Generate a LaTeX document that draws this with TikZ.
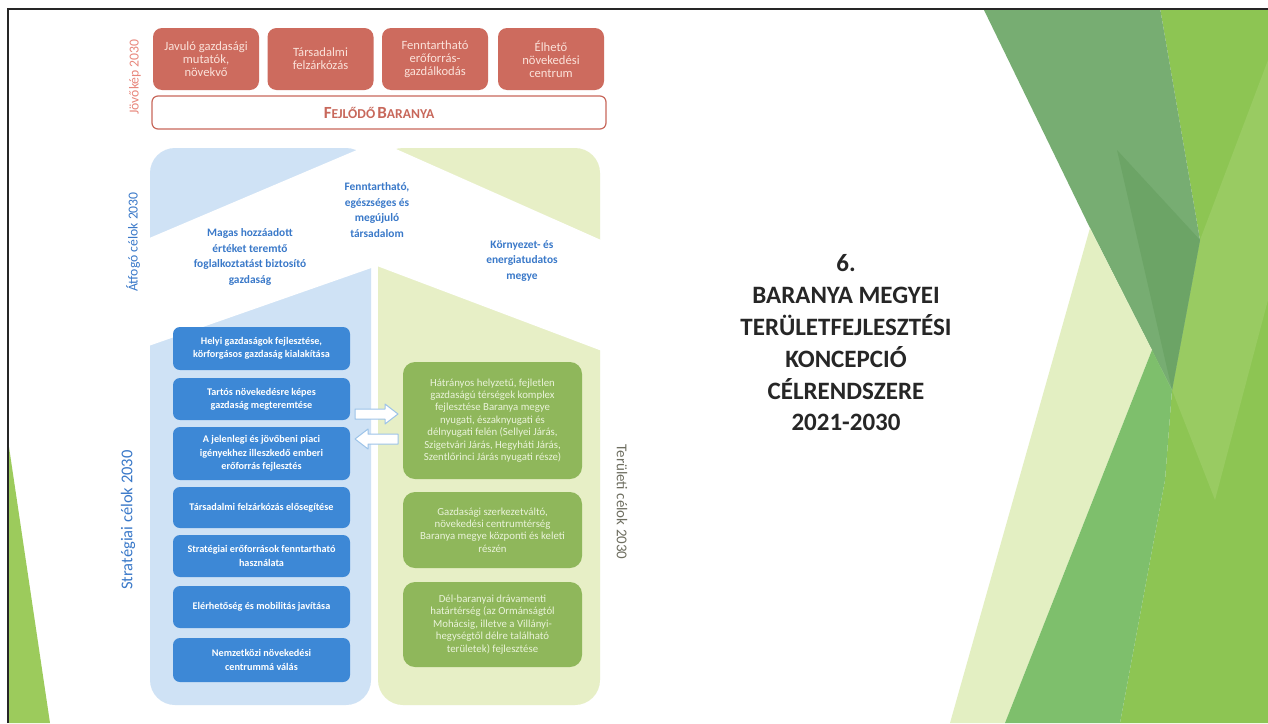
\documentclass[tikz,border=0pt]{standalone}
\usepackage{fontspec}
\setmainfont{Carlito}
\definecolor{cRedFill}{HTML}{CD6B5E}
\definecolor{cRedText}{HTML}{FBE2DA}
\definecolor{cRedLine}{HTML}{C8685B}
\definecolor{cRedLabel}{HTML}{E8877C}
\definecolor{cBluePanel}{HTML}{CFE2F5}
\definecolor{cBlueBox}{HTML}{3D88D6}
\definecolor{cBlueText}{HTML}{3A79C9}
\definecolor{cGreenPanel}{HTML}{E7EFC6}
\definecolor{cGreenBox}{HTML}{8FB75B}
\definecolor{cGreenText}{HTML}{EAF3DA}
\definecolor{cArrowLine}{HTML}{9CC3E8}
\definecolor{cTitle}{HTML}{262626}
\definecolor{cLime}{HTML}{8DC553}
\definecolor{cLimeLight}{HTML}{99CB62}
\definecolor{cSage}{HTML}{77AD72}
\definecolor{cSageDark}{HTML}{6CA466}
\definecolor{cPale}{HTML}{E3EFC2}
\definecolor{cMid}{HTML}{7EBF6C}
\definecolor{cEdgeLime}{HTML}{9CCB5C}
\definecolor{cLabelGray}{HTML}{6E6E60}
\begin{document}
\begin{tikzpicture}[x=1pt,y=-1pt,
  redbox/.style={fill=cRedFill, rounded corners=9pt, text=cRedText, align=center, inner sep=0pt,
    minimum width=106pt, minimum height=62pt, font=\fontsize{12.6}{13}\selectfont},
  bluebox/.style={fill=cBlueBox, rounded corners=7pt, text=white, align=center, inner sep=0pt,
    minimum width=177pt, font=\bfseries\fontsize{10.2}{13.3}\selectfont},
  greenbox/.style={fill=cGreenBox, rounded corners=12pt, text=cGreenText, align=center, inner sep=0pt,
    minimum width=179pt, font=\fontsize{10.8}{12.4}\selectfont},
  goal/.style={text=cBlueText, align=center, inner sep=0pt, font=\bfseries\fontsize{11.4}{15.4}\selectfont},
  sidelabel/.style={inner sep=0pt},
  blockarrow/.style={fill=white, draw=cArrowLine, line width=1pt, line join=round}
]
\useasboundingbox (0,0) rectangle (1268,723);
\fill[white] (0,0) rectangle (1268,723);

% decorative background, right
\fill[cLime] (1160,8) -- (1268,8) -- (1268,723) -- (1120,723) -- (1165,480) -- (1172,390) -- (1200,240) -- cycle;
\fill[cLimeLight] (1200,240) -- (1268,60) -- (1268,300) -- (1215,500) -- (1172,390) -- cycle;
\fill[cSage] (983,8) -- (1160,8) -- (1200,240) -- (1172,390) -- (1090,228) -- cycle;
\fill[cSageDark] (1117,150) -- (1200,240) -- (1172,390) -- cycle;
\fill[cPale] (1090,228) -- (1152,350) -- (1005,723) -- (950,723) -- cycle;
\fill[cMid] (1152,350) -- (1172,390) -- (1165,480) -- (1120,723) -- (1005,723) -- cycle;
% decorative background, left
\fill[cEdgeLime] (9,447) -- (50,723) -- (9,723) -- cycle;

% panels
\fill[cBluePanel, rounded corners=25pt] (150,148) rectangle (371,705);
\fill[cGreenPanel, rounded corners=25pt] (378,148) rectangle (600,705);
\fill[white] (140,242) -- (378,141) -- (610,244) -- (610,354) -- (377,266) -- (140,349) -- cycle;

% top vision boxes
\node[redbox] (v1) at (206,59) {Javuló gazdasági\\mutatók,\\növekvő};
\node[redbox] (v2) at (320.5,59) {Társadalmi\\felzárkózás};
\node[redbox] (v3) at (435,59) {Fenntartható\\erőforrás-\\gazdálkodás};
\node[redbox] (v4) at (551,59) {Élhető\\növekedési\\centrum};
\node[draw=cRedLine, line width=1.2pt, fill=white, rounded corners=6pt, minimum width=454pt, minimum height=33pt, inner sep=0pt, text=cRedLine, font=\bfseries]
  (fb) at (379,112.5) {{\fontsize{17}{18}\selectfont F}{\fontsize{13.6}{18}\selectfont EJLŐDŐ} {\fontsize{17}{18}\selectfont B}{\fontsize{13.6}{18}\selectfont ARANYA}};

% overarching goals
\node[goal] (o1) at (377,210) {Fenntartható,\\egészséges és\\megújuló\\társadalom};
\node[goal] (o2) at (250,257) {Magas hozzáadott\\értéket teremtő\\foglalkoztatást biztosító\\gazdaság};
\node[goal] (o3) at (522,261) {Környezet- és\\energiatudatos\\megye};

% strategic goals
\node[bluebox, minimum height=43pt] (b1) at (261.5,348.5) {Helyi gazdaságok fejlesztése,\\körforgásos gazdaság kialakítása};
\node[bluebox, minimum height=42pt] (b2) at (261.5,399) {Tartós növekedésre képes\\gazdaság megteremtése};
\node[bluebox, minimum height=53pt] (b3) at (261.5,453.5) {A jelenlegi és jövőbeni piaci\\igényekhez illeszkedő emberi\\erőforrás fejlesztés};
\node[bluebox, minimum height=41pt] (b4) at (261.5,507.5) {Társadalmi felzárkózás elősegítése};
\node[bluebox, minimum height=42pt] (b5) at (261.5,556) {Stratégiai erőforrások fenntartható\\használata};
\node[bluebox, minimum height=42pt] (b6) at (261.5,607) {Elérhetőség és mobilitás javítása};
\node[bluebox, minimum height=44pt] (b7) at (261.5,660) {Nemzetközi növekedési\\centrummá válás};

% territorial goals
\node[greenbox, minimum height=117pt] (g1) at (492.5,420.5) {Hátrányos helyzetű, fejletlen\\gazdaságú térségek komplex\\fejlesztése Baranya megye\\nyugati, északnyugati és\\délnyugati felén (Sellyei Járás,\\Szigetvári Járás, Hegyháti Járás,\\Szentlőrinci Járás nyugati része)};
\node[greenbox, minimum height=76pt] (g2) at (492.5,530) {Gazdasági szerkezetváltó,\\növekedési centrumtérség\\Baranya megye központi és keleti\\részén};
\node[greenbox, minimum height=85pt] (g3) at (492.5,624.5) {Dél-baranyai drávamenti\\határtérség (az Ormánságtól\\Mohácsig, illetve a Villányi-\\hegységtől délre található\\területek) fejlesztése};

% block arrows between the two columns
\draw[blockarrow] (355,409) -- (385,409) -- (385,404) -- (398,414) -- (385,424) -- (385,419) -- (355,419) -- cycle;
\draw[blockarrow] (398,434) -- (368,434) -- (368,429) -- (355,439) -- (368,449) -- (368,444) -- (398,444) -- cycle;

% side labels
\node[sidelabel, text=cRedLabel, rotate=90, font=\fontsize{13.7}{15}\selectfont] (jk) at (135,77) {Jövőkép 2030};
\node[sidelabel, text=cBlueText, rotate=90, font=\fontsize{13.7}{15}\selectfont] (ac) at (133,242) {Átfogó célok 2030};
\node[sidelabel, text=cBlueText, rotate=90, font=\fontsize{16.5}{18}\selectfont] (sc) at (128,520) {Stratégiai célok 2030};
\node[sidelabel, text=cLabelGray, rotate=-90, font=\fontsize{15}{17}\selectfont] (tc) at (622,502) {Területi célok 2030};

% title
\node[font=\bfseries\fontsize{25}{31.8}\selectfont, text=cTitle, align=center, inner sep=0pt] (title) at (846,343)
  {6.\\BARANYA MEGYEI\\TERÜLETFEJLESZTÉSI\\KONCEPCIÓ\\CÉLRENDSZERE\\2021-2030};

% frame
\draw[line width=2pt, black!85] (8,723) -- (8,9) -- (1268,9);
\end{tikzpicture}
\end{document}
